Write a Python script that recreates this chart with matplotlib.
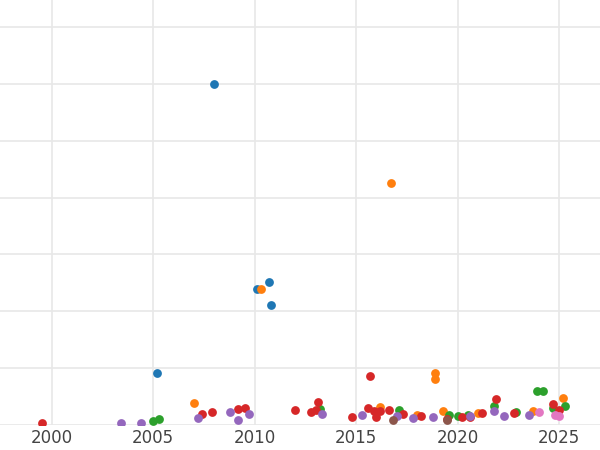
import matplotlib
matplotlib.use("Agg")
import matplotlib.pyplot as plt

series = {
    "#1f77b4": ([2008.0, 2010.1, 2010.7, 2010.8, 2005.2],
                [6.0, 2.39, 2.51, 2.12, 0.91]),
    "#ff7f0e": ([2016.7, 2010.3, 2018.9, 2018.9, 2007.0, 2025.2, 2016.2, 2019.3, 2018.0, 2021.0, 2023.7],
                [4.25, 2.40, 0.91, 0.81, 0.39, 0.47, 0.32, 0.25, 0.18, 0.21, 0.25]),
    "#2ca02c": ([2005.0, 2005.3, 2013.2, 2017.1, 2019.6, 2020.5, 2021.8, 2022.9, 2023.9, 2024.2, 2025.3, 2024.7, 2020.0],
                [0.07, 0.11, 0.28, 0.26, 0.18, 0.18, 0.33, 0.23, 0.61, 0.61, 0.33, 0.30, 0.16]),
    "#d62728": ([1999.5, 2007.4, 2007.9, 2009.2, 2009.5, 2012.0, 2012.8, 2013.1, 2014.8, 2015.7, 2015.6, 2016.0, 2016.2,
                 2016.6, 2017.3, 2018.2, 2019.5, 2020.2, 2020.6, 2021.2, 2021.9, 2022.8, 2024.7, 2025.0, 2015.9, 2013.0],
                [0.04, 0.19, 0.23, 0.28, 0.30, 0.26, 0.23, 0.40, 0.14, 0.86, 0.30, 0.14, 0.25,
                 0.26, 0.19, 0.16, 0.11, 0.14, 0.14, 0.21, 0.46, 0.21, 0.37, 0.26, 0.25, 0.26]),
    "#9467bd": ([2003.4, 2004.4, 2007.2, 2008.8, 2009.2, 2009.7, 2013.3, 2015.3, 2017.0, 2017.8, 2018.8, 2020.6, 2022.3, 2023.5, 2021.8],
                [0.04, 0.04, 0.12, 0.23, 0.09, 0.19, 0.19, 0.18, 0.16, 0.12, 0.14, 0.16, 0.16, 0.18, 0.25]),
    "#8c564b": ([2016.8, 2019.5], [0.09, 0.09]),
    "#e377c2": ([2024.0, 2024.8, 2025.0], [0.23, 0.18, 0.16]),
}
xticks = [2000, 2005, 2010, 2015, 2020, 2025]

fig = plt.figure(figsize=(6, 4.5), dpi=100)
ax = fig.add_axes([0, 0.055, 1, 0.945])
for c, (xs, ys) in series.items():
    ax.scatter(xs, ys, s=40, color=c, zorder=3, linewidths=0)
ax.set_xlim(1997.45, 2027.02)
ax.set_ylim(0, 7.47)
ax.set_xticks(xticks)
ax.set_xticklabels([str(t) for t in xticks], fontsize=12, color="#444444")
ax.set_yticks([0, 1, 2, 3, 4, 5, 6, 7])
ax.set_yticklabels([])
ax.tick_params(length=0, pad=3)
ax.grid(True, color="#e8e8e8", linewidth=1.2)
for s in ax.spines.values():
    s.set_visible(False)
fig.savefig("out.png")
